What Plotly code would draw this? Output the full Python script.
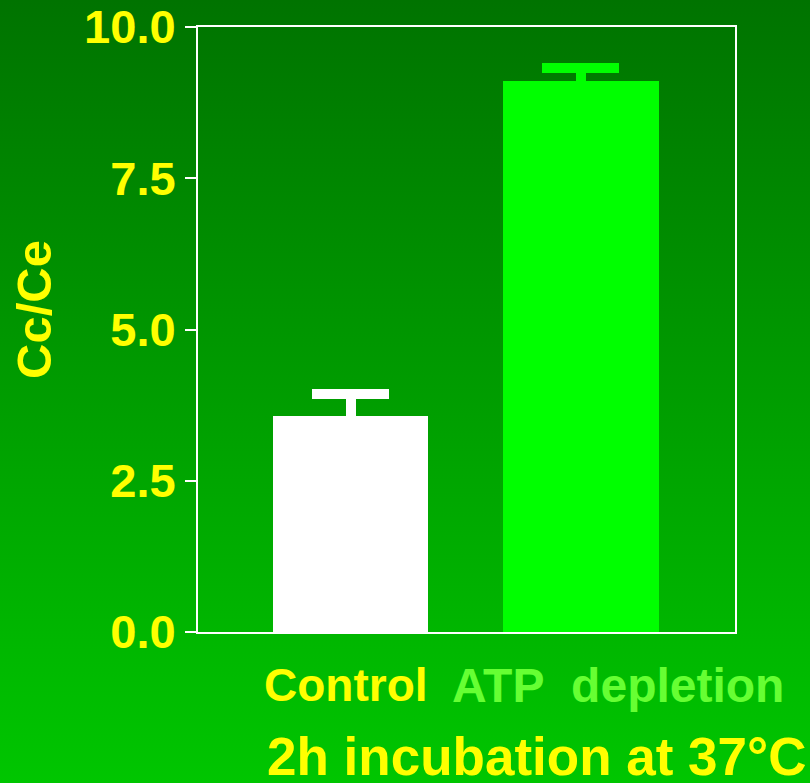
import base64
import plotly.graph_objects as go

# Data
categories = ["Control", "ATP depletion"]
ratio_means = [3.57, 9.11]
ratio_errors = [0.36, 0.22]
bar_colors = ["#ffffff", "#00ff00"]
label_colors = ["#ffff00", "#66ff33"]
label_texts = ["Control", "ATP\u00a0\u00a0depletion"]
y_ticks = [0, 2.5, 5.0, 7.5, 10.0]
y_tick_labels = ["0.0", "2.5", "5.0", "7.5", "10.0"]

W, H = 810, 783
ML, MR, MT, MB = 198, 75, 27, 151
PW, PH = W - ML - MR, H - MT - MB

FONT = "Liberation Sans, Arial, Helvetica, sans-serif"
YELLOW = "#ffff00"
BAR_WIDTH = 0.675

# vertical green gradient for the page background
svg = (
    f'<svg xmlns="http://www.w3.org/2000/svg" width="{W}" height="{H}">'
    '<defs><linearGradient id="g" x1="0" y1="0" x2="0" y2="1">'
    '<stop offset="0" stop-color="#007300"/>'
    '<stop offset="1" stop-color="#00c600"/>'
    '</linearGradient></defs>'
    f'<rect width="{W}" height="{H}" fill="url(#g)"/></svg>'
)
bg_src = "data:image/svg+xml;base64," + base64.b64encode(svg.encode()).decode()

fig = go.Figure()
# error bars first (symmetric); the bars drawn afterwards hide the lower half
for cat, val, err, col in zip(categories, ratio_means, ratio_errors, bar_colors):
    fig.add_trace(go.Bar(
        x=[cat], y=[val], width=BAR_WIDTH,
        marker=dict(color="rgba(0,0,0,0)", line=dict(width=0)),
        error_y=dict(type="data", symmetric=True, array=[err],
                     color=col, thickness=10, width=38.5),
        showlegend=False, hoverinfo="skip",
    ))
for cat, val, col in zip(categories, ratio_means, bar_colors):
    fig.add_trace(go.Bar(
        x=[cat], y=[val], width=BAR_WIDTH,
        marker=dict(color=col, line=dict(width=0)),
        showlegend=False,
    ))

annotations = []
label_shift = [-5, 37]
label_sizes = [46, 48]
for cat, txt, col, sh, fs in zip(categories, label_texts, label_colors, label_shift, label_sizes):
    annotations.append(dict(
        x=cat, xref="x", y=(MT + PH - 685) / PH, yref="paper",
        text=txt, showarrow=False, xanchor="center", yanchor="middle", xshift=sh,
        font=dict(family=FONT, size=fs, color=col, weight="bold"),
    ))
annotations.append(dict(
    x=(536.5 - ML) / PW, xref="paper", y=(MT + PH - 756) / PH, yref="paper",
    text="2h incubation at 37°C", showarrow=False, xanchor="center", yanchor="middle",
    font=dict(family=FONT, size=53, color=YELLOW, weight="bold"),
))
annotations.append(dict(
    x=(34 - ML) / PW, xref="paper", y=(MT + PH - 310) / PH, yref="paper",
    text="Cc/Ce", showarrow=False, textangle=-90, xanchor="center", yanchor="middle",
    font=dict(family=FONT, size=49, color=YELLOW, weight="bold"),
))

fig.update_layout(
    width=W, height=H,
    margin=dict(l=ML, r=MR, t=MT, b=MB, pad=0, autoexpand=False),
    paper_bgcolor="#00a000",
    plot_bgcolor="rgba(0,0,0,0)",
    barmode="overlay",
    bargap=0,
    images=[dict(source=bg_src, xref="paper", yref="paper",
                 x=-ML / PW, y=1 + MT / PH, sizex=W / PW, sizey=H / PH,
                 xanchor="left", yanchor="top", sizing="stretch", layer="below")],
    annotations=annotations,
    xaxis=dict(
        range=[-0.663, 1.669], showticklabels=False, ticks="",
        showgrid=False, zeroline=False, automargin=False,
        showline=True, linecolor="#ffffff", linewidth=2, mirror=True,
    ),
    yaxis=dict(
        range=[0, 10], tickvals=y_ticks, ticktext=y_tick_labels,
        ticks="outside", ticklen=11, tickwidth=2, tickcolor="#ffffff",
        tickfont=dict(family=FONT, size=47, color=YELLOW, weight="bold"),
        showgrid=False, zeroline=False, automargin=False,
        showline=True, linecolor="#ffffff", linewidth=2, mirror=True,
    ),
)

fig.write_html("out.html")
